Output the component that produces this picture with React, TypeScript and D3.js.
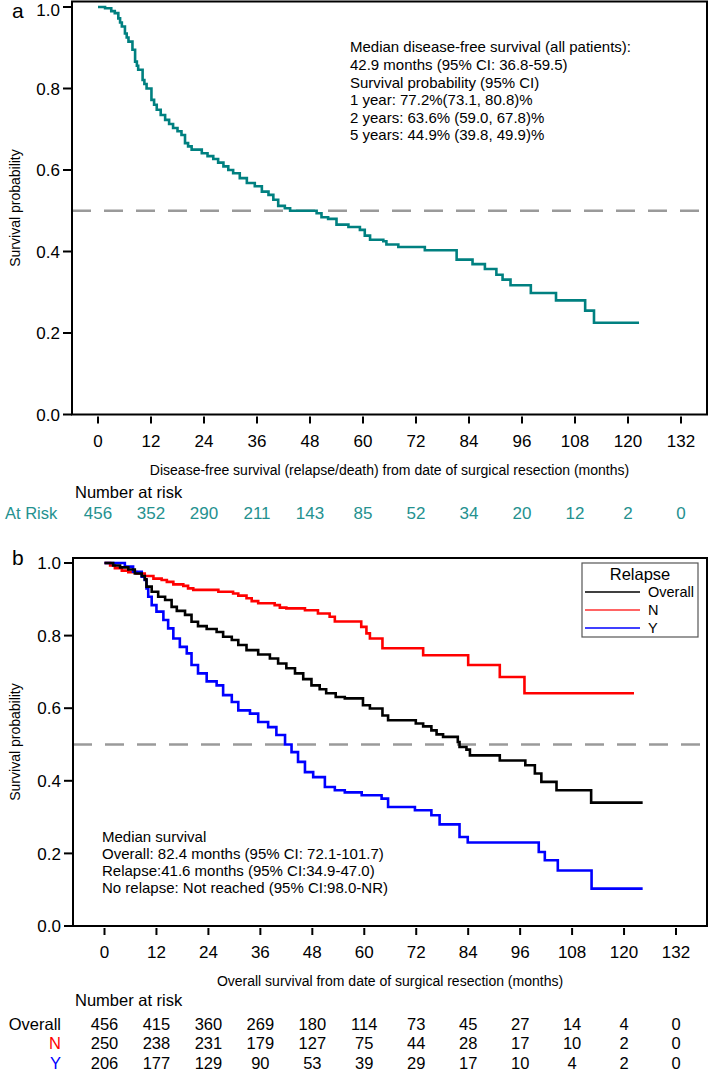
import React from "react";
import * as d3 from "d3";

// ---------- data ----------
const monthTicks = [0, 12, 24, 36, 48, 60, 72, 84, 96, 108, 120, 132];
const probTicks = [0, 0.2, 0.4, 0.6, 0.8, 1.0];

// Panel a: disease-free survival (step times, survival after step)
const dfsTime = [0, 1.6, 3.0, 3.8, 4.6, 5.0, 5.4, 6.1, 6.5, 6.9, 7.8, 8.4, 8.8, 9.1, 10.1, 10.5, 11.0, 12.1, 12.7, 13.3, 14.2, 15.2, 16.1, 17.0, 18.0, 18.9, 19.7, 20.4, 21.2, 23.5, 24.8, 26.1, 27.2, 28.4, 29.5, 30.6, 32.1, 33.7, 35.5, 37.1, 38.6, 39.7, 40.8, 42.3, 43.5, 49.5, 50.6, 52.1, 54.0, 56.7, 59.3, 60.4, 61.6, 64.6, 65.3, 68.0, 74.0, 81.2, 84.8, 87.6, 90.2, 91.6, 93.4, 98.0, 103.7, 110.3, 112.3, 122.5];
const dfsSurv = [1.0, 0.997, 0.99, 0.985, 0.972, 0.962, 0.952, 0.935, 0.925, 0.915, 0.895, 0.866, 0.856, 0.846, 0.821, 0.811, 0.8, 0.772, 0.76, 0.748, 0.735, 0.723, 0.713, 0.703, 0.695, 0.686, 0.666, 0.658, 0.65, 0.641, 0.634, 0.627, 0.618, 0.609, 0.6, 0.592, 0.58, 0.568, 0.56, 0.547, 0.539, 0.527, 0.512, 0.506, 0.5, 0.494, 0.484, 0.48, 0.466, 0.46, 0.453, 0.439, 0.429, 0.425, 0.417, 0.411, 0.403, 0.38, 0.369, 0.357, 0.343, 0.331, 0.317, 0.298, 0.28, 0.255, 0.225, 0.225];

// Panel b: overall survival by relapse status
const osOverallTime = [0, 2.0, 3.6, 5.5, 7.0, 8.6, 9.3, 9.7, 10.9, 12.4, 14.0, 15.5, 16.7, 18.6, 20.1, 21.6, 23.6, 25.9, 27.4, 29.4, 30.9, 32.8, 35.5, 38.2, 40.1, 42.0, 44.0, 45.9, 47.8, 49.7, 51.2, 53.4, 55.5, 59.7, 61.3, 64.2, 65.5, 71.9, 73.6, 75.5, 76.7, 78.2, 81.6, 82.0, 83.6, 84.4, 91.3, 97.2, 99.4, 100.9, 104.4, 112.4, 124.3];
const osOverallSurv = [1.0, 0.993, 0.988, 0.982, 0.971, 0.964, 0.955, 0.935, 0.921, 0.907, 0.898, 0.879, 0.868, 0.857, 0.838, 0.826, 0.818, 0.81, 0.797, 0.788, 0.774, 0.76, 0.748, 0.737, 0.723, 0.71, 0.696, 0.68, 0.663, 0.652, 0.641, 0.631, 0.627, 0.608, 0.599, 0.58, 0.567, 0.558, 0.55, 0.539, 0.528, 0.521, 0.507, 0.493, 0.486, 0.47, 0.456, 0.443, 0.42, 0.397, 0.374, 0.34, 0.34];

const osNoTime = [0, 1.3, 2.4, 4.0, 5.5, 7.4, 9.3, 11.3, 13.2, 14.4, 15.9, 18.2, 19.3, 20.5, 26.3, 29.7, 30.9, 32.8, 34.0, 35.5, 39.3, 40.5, 42.0, 46.3, 49.3, 52.0, 53.2, 59.3, 60.5, 61.3, 64.2, 73.6, 84.0, 91.3, 97.0, 122.3];
const osNoSurv = [1.0, 0.993, 0.986, 0.979, 0.975, 0.971, 0.964, 0.957, 0.953, 0.948, 0.941, 0.937, 0.93, 0.926, 0.921, 0.916, 0.91, 0.903, 0.895, 0.889, 0.884, 0.877, 0.875, 0.87, 0.861, 0.852, 0.839, 0.824, 0.806, 0.792, 0.765, 0.746, 0.719, 0.686, 0.641, 0.641];

const osYesTime = [0, 4.7, 6.6, 8.6, 9.3, 9.7, 10.1, 10.9, 12.0, 13.6, 14.7, 15.9, 17.4, 19.0, 20.1, 21.6, 23.6, 25.9, 27.4, 29.4, 30.9, 33.6, 35.5, 37.8, 39.7, 41.7, 43.2, 44.7, 46.3, 48.2, 50.9, 53.2, 55.5, 59.4, 64.0, 65.5, 71.7, 75.5, 77.4, 82.0, 83.9, 100.3, 101.7, 104.7, 112.5, 124.3];
const osYesSurv = [1.0, 0.99, 0.976, 0.962, 0.953, 0.93, 0.907, 0.884, 0.866, 0.843, 0.82, 0.792, 0.769, 0.751, 0.719, 0.696, 0.674, 0.663, 0.636, 0.617, 0.594, 0.585, 0.562, 0.548, 0.526, 0.5, 0.479, 0.452, 0.424, 0.41, 0.383, 0.374, 0.368, 0.36, 0.351, 0.328, 0.319, 0.305, 0.28, 0.245, 0.23, 0.204, 0.181, 0.153, 0.103, 0.103];

const riskA = [456, 352, 290, 211, 143, 85, 52, 34, 20, 12, 2, 0];
const riskOverall = [456, 415, 360, 269, 180, 114, 73, 45, 27, 14, 4, 0];
const riskN = [250, 238, 231, 179, 127, 75, 44, 28, 17, 10, 2, 0];
const riskY = [206, 177, 129, 90, 53, 39, 29, 17, 10, 4, 2, 0];

const annotA = [
  "Median disease-free survival (all patients):",
  "42.9 months (95% CI: 36.8-59.5)",
  "Survival probability (95% CI)",
  "1 year: 77.2%(73.1, 80.8)%",
  "2 years: 63.6% (59.0, 67.8)%",
  "5 years: 44.9% (39.8, 49.9)%",
];
const annotB = [
  "Median survival",
  "Overall: 82.4 months (95% CI: 72.1-101.7)",
  "Relapse:41.6 months (95% CI:34.9-47.0)",
  "No relapse: Not reached (95% CI:98.0-NR)",
];
const legendLabels = ["Overall", "N", "Y"];

// ---------- style ----------
const FONT = "'Liberation Sans', Arial, Helvetica, sans-serif";
const TEAL = "#008080";
const TEAL_TXT = "#24918f";
const RED = "#ff0000";
const BLUE = "#0000ff";
const BLACK = "#000000";

const toPts = (t: number[], s: number[]) => t.map((v, i) => [v, s[i]] as [number, number]);

type PanelProps = {
  left: number; right: number; top: number; bottom: number;
  x0: number; x132: number; y1: number;
  label: string; labelY: number;
  xTitle: string;
  series: { t: number[]; s: number[]; color: string }[];
};

function Panel(p: PanelProps) {
  const x = d3.scaleLinear().domain([0, 132]).range([p.x0, p.x132]);
  const y = d3.scaleLinear().domain([0, 1]).range([p.bottom, p.y1]);
  const line = d3.line<[number, number]>()
    .x(d => x(d[0]))
    .y(d => y(d[1]))
    .curve(d3.curveStepAfter);
  return (
    <g>
      <text x={12} y={p.labelY} fontSize={21} fontFamily={FONT}>{p.label}</text>
      {/* reference line */}
      <line x1={p.left} x2={p.right} y1={y(0.5)} y2={y(0.5)} stroke="#9a9a9a" strokeWidth={2.5} strokeDasharray="19 13" />
      {p.series.map((sr, i) => (
        <path key={i} d={line(toPts(sr.t, sr.s)) || ""} fill="none" stroke={sr.color} strokeWidth={2.6} />
      ))}
      {/* frame */}
      <rect x={p.left} y={p.top} width={p.right - p.left} height={p.bottom - p.top} fill="none" stroke="#000" strokeWidth={2} />
      {/* y ticks */}
      {probTicks.map(v => (
        <g key={v}>
          <line x1={p.left - 9} x2={p.left} y1={y(v)} y2={y(v)} stroke="#000" strokeWidth={2} />
          <text x={p.left - 12} y={Math.max(y(v), 9.5)} dy="0.36em" textAnchor="end" fontSize={17} fontFamily={FONT}>{v.toFixed(1)}</text>
        </g>
      ))}
      {/* x ticks */}
      {monthTicks.map(v => (
        <g key={v}>
          <line x1={x(v)} x2={x(v)} y1={p.bottom + 2} y2={p.bottom + 9} stroke="#000" strokeWidth={2} />
          <text x={x(v)} y={p.bottom + 26} dy="0.36em" textAnchor="middle" fontSize={17} fontFamily={FONT}>{v}</text>
        </g>
      ))}
      <text x={(p.left + p.right) / 2} y={p.bottom + 55} dy="0.36em" textAnchor="middle" fontSize={14} fontFamily={FONT}>{p.xTitle}</text>
      <text transform={`translate(15,${(p.top + p.bottom) / 2}) rotate(-90)`} dy="0.36em" textAnchor="middle" fontSize={14} fontFamily={FONT}>Survival probability</text>
    </g>
  );
}

export default function App() {
  const xA = d3.scaleLinear().domain([0, 132]).range([98, 681]);
  const xB = d3.scaleLinear().domain([0, 132]).range([104.5, 676]);
  return (
    <svg width={709} height={1073} style={{ position: "absolute", left: 0, top: 0, background: "#fff" }}>
      <rect width={709} height={1073} fill="#fff" />
      <Panel left={72} right={707} top={1.5} bottom={414.5} x0={98} x132={681} y1={7}
        label="a" labelY={18}
        xTitle="Disease-free survival (relapse/death) from date of surgical resection (months)"
        series={[{ t: dfsTime, s: dfsSurv, color: TEAL }]} />
      {annotA.map((s, i) => (
        <text key={i} x={350} y={47 + i * 17.6} dy="0.36em" fontSize={15} fontFamily={FONT}>{s}</text>
      ))}
      {/* risk table a */}
      <text x={75} y={492} dy="0.36em" fontSize={16.5} fontFamily={FONT}>Number at risk</text>
      <text x={5} y={513} dy="0.36em" fontSize={16.5} fontFamily={FONT} fill={TEAL_TXT}>At Risk</text>
      {riskA.map((v, i) => (
        <text key={i} x={xA(monthTicks[i])} y={513} dy="0.36em" textAnchor="middle" fontSize={17} fontFamily={FONT} fill={TEAL_TXT}>{v}</text>
      ))}

      <Panel left={73} right={707} top={558} bottom={926} x0={104.5} x132={676} y1={563}
        label="b" labelY={565}
        xTitle="Overall survival from date of surgical resection (months)"
        series={[
          { t: osNoTime, s: osNoSurv, color: RED },
          { t: osYesTime, s: osYesSurv, color: BLUE },
          { t: osOverallTime, s: osOverallSurv, color: BLACK },
        ]} />
      {annotB.map((s, i) => (
        <text key={i} x={102} y={837 + i * 17} dy="0.36em" fontSize={15} fontFamily={FONT}>{s}</text>
      ))}
      {/* legend */}
      <rect x={582} y={563} width={116} height={74} fill="#fff" stroke="#555" strokeWidth={1.2} />
      <text x={640} y={574} dy="0.36em" textAnchor="middle" fontSize={16.5} fontFamily={FONT}>Relapse</text>
      {legendLabels.map((l, i) => (
        <g key={l}>
          <line x1={585} x2={640} y1={592 + i * 18} y2={592 + i * 18} stroke={[BLACK, "#ff3030", BLUE][i]} strokeWidth={1.5} />
          <text x={648} y={592 + i * 18} dy="0.36em" fontSize={14.5} fontFamily={FONT}>{l}</text>
        </g>
      ))}
      {/* risk table b */}
      <text x={75} y={1000} dy="0.36em" fontSize={16.5} fontFamily={FONT}>Number at risk</text>
      {[
        { name: "Overall", vals: riskOverall, color: BLACK },
        { name: "N", vals: riskN, color: RED },
        { name: "Y", vals: riskY, color: BLUE },
      ].map((row, r) => (
        <g key={row.name}>
          <text x={61} y={1024 + r * 19.5} dy="0.36em" textAnchor="end" fontSize={16.5} fontFamily={FONT} fill={row.color}>{row.name}</text>
          {row.vals.map((v, i) => (
            <text key={i} x={xB(monthTicks[i])} y={1024 + r * 19.5} dy="0.36em" textAnchor="middle" fontSize={16.5} fontFamily={FONT}>{v}</text>
          ))}
        </g>
      ))}
    </svg>
  );
}
